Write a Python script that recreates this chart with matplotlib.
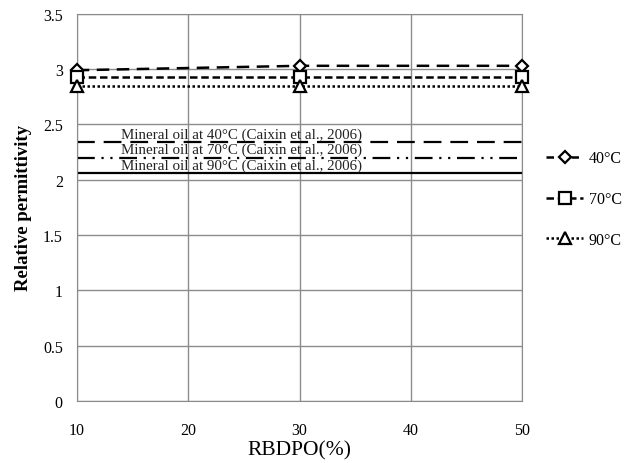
import matplotlib.pyplot as plt
from matplotlib.lines import Line2D

plt.rcParams['font.family'] = ['Liberation Serif', 'DejaVu Serif']

rbdpo = [10, 30, 50]
perm_40 = [2.99, 3.03, 3.03]
perm_70 = [2.93, 2.93, 2.93]
perm_90 = [2.85, 2.85, 2.85]

# reference values for mineral oil (Caixin et al., 2006)
mineral_40 = 2.34
mineral_70 = 2.20
mineral_90 = 2.06

fig = plt.figure(figsize=(6.24, 4.64), dpi=100)
ax = fig.add_axes([0.123, 0.134, 0.714, 0.834])

ax.plot(rbdpo, perm_40, color='black', lw=1.8, ls=(0, (5, 3)), marker='D', ms=6,
        mfc='white', mec='black', mew=1.6, clip_on=False, zorder=5)
ax.plot(rbdpo, perm_70, color='black', lw=1.8, ls=(0, (3, 1.5)), marker='s', ms=8,
        mfc='white', mec='black', mew=1.6, clip_on=False, zorder=5)
ax.plot(rbdpo, perm_90, color='black', lw=1.8, ls=(0, (1, 1)), marker='^', ms=8,
        mfc='white', mec='black', mew=1.6, clip_on=False, zorder=5)

ax.axhline(mineral_40, color='black', lw=1.6, ls=(0, (8, 4)))
ax.axhline(mineral_70, color='black', lw=1.6, ls=(0, (8, 3, 1, 3, 1, 3)))
ax.axhline(mineral_90, color='black', lw=1.6)

for val, t in [(mineral_40, 40), (mineral_70, 70), (mineral_90, 90)]:
    ax.text(24.8, val + 0.012, 'Mineral oil at %d°C (Caixin et al., 2006)' % t,
            ha='center', va='bottom', fontsize=10.8, color='#222222')

ax.set_xlim(10, 50)
ax.set_ylim(0, 3.5)
ax.set_xticks([10, 20, 30, 40, 50])
ax.set_yticks([0, 0.5, 1, 1.5, 2, 2.5, 3, 3.5])
ax.set_yticklabels(['0', '0.5', '1', '1.5', '2', '2.5', '3', '3.5'])
ax.grid(True, color='#8c8c8c', lw=1)
ax.set_axisbelow(True)
for s in ax.spines.values():
    s.set_color('#8c8c8c')
ax.tick_params(length=0, labelsize=11.5, pad=10)
ax.tick_params(axis='x', pad=15)

ax.set_xlabel('RBDPO(%)', fontsize=15.5, labelpad=2)
ax.set_ylabel('Relative permittivity', fontsize=13.5, fontweight='bold', labelpad=8)

handles = [
    Line2D([], [], color='black', lw=1.8, ls=(0, (3, 2)), marker='D', ms=6,
           mfc='white', mec='black', mew=1.6),
    Line2D([], [], color='black', lw=1.8, ls=(0, (3, 1.5)), marker='s', ms=8,
           mfc='white', mec='black', mew=1.6),
    Line2D([], [], color='black', lw=1.8, ls=(0, (1, 1)), marker='^', ms=8,
           mfc='white', mec='black', mew=1.6),
]
fig.legend(handles, ['40°C', '70°C', '90°C'], loc='upper left',
           bbox_to_anchor=(0.868, 0.684), frameon=False, fontsize=11.5,
           labelspacing=1.55, handlelength=2.3, handletextpad=0.35,
           borderaxespad=0, borderpad=0.3)

fig.savefig('out.png', dpi=100)
